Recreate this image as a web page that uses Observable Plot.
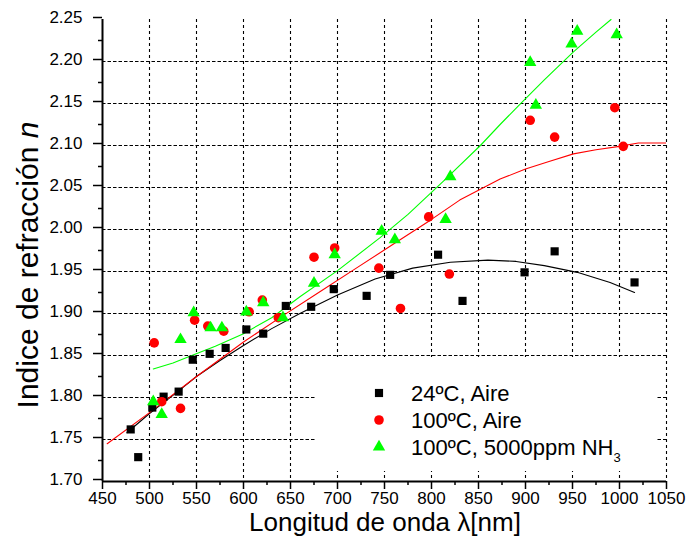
<!DOCTYPE html>
<html>
<head>
<meta charset="utf-8">
<script src="https://cdn.jsdelivr.net/npm/d3@7"></script>
<script src="https://cdn.jsdelivr.net/npm/@observablehq/plot@0.6"></script>
<style>
  html, body { margin: 0; padding: 0; background: #fff; }
</style>
</head>
<body>
<div id="chart"></div>
<script>
// ---- Tick values ----
const xTicks = [450, 500, 550, 600, 650, 700, 750, 800, 850, 900, 950, 1000, 1050];
const xMinorTicks = [475, 525, 575, 625, 675, 725, 775, 825, 875, 925, 975, 1025];
const xGridTicks = [500, 550, 600, 650, 700, 750, 800, 850, 900, 950, 1000, 1050];
const yTicks = [1.70, 1.75, 1.80, 1.85, 1.90, 1.95, 2.00, 2.05, 2.10, 2.15, 2.20, 2.25];
const yMinorTicks = [1.725, 1.775, 1.825, 1.875, 1.925, 1.975, 2.025, 2.075, 2.125, 2.175, 2.225];
const yGridTicks = [1.75, 1.80, 1.85, 1.90, 1.95, 2.00, 2.05, 2.10, 2.15, 2.20];

// ---- Series labels ----
const seriesNames = ["24ºC, Aire", "100ºC, Aire", "100ºC, 5000ppm NH"];
const xLabel = "Longitud de onda λ[nm]";
const yLabel = "Indice de refracción ";
const yLabelItalic = "n";

// ---- 24ºC, Aire (black squares) ----
const airColdX = [480, 488, 503, 515, 531, 546, 564, 581, 603, 621, 645, 672, 696, 731, 756, 807, 833, 899, 931, 1016];
const airColdY = [1.762, 1.729, 1.788, 1.801, 1.807, 1.845, 1.852, 1.859, 1.881, 1.876, 1.909, 1.908, 1.929, 1.921, 1.946, 1.970, 1.915, 1.949, 1.974, 1.937];

// ---- 100ºC, Aire (red circles) ----
const airHotX = [505, 513, 533, 548, 562, 579, 606, 620, 637, 675, 697, 744, 767, 797, 819, 905, 931, 995, 1004];
const airHotY = [1.865, 1.795, 1.787, 1.892, 1.885, 1.879, 1.902, 1.916, 1.895, 1.967, 1.978, 1.954, 1.906, 2.015, 1.947, 2.130, 2.110, 2.145, 2.099];

// ---- 100ºC, 5000ppm NH3 (green triangles) ----
const nh3X = [504, 513, 533, 547, 565, 577, 603, 621, 642, 675, 697, 747, 761, 815, 820, 905, 911, 949, 955, 997];
const nh3Y = [1.795, 1.780, 1.869, 1.901, 1.883, 1.883, 1.902, 1.913, 1.895, 1.936, 1.970, 1.998, 1.988, 2.012, 2.063, 2.199, 2.148, 2.221, 2.236, 2.232];

// ---- Fitted curves ----
const airColdFitX = [476, 500, 530, 550, 575, 600, 630, 660, 700, 740, 780, 820, 860, 890, 920, 955, 990, 1016];
const airColdFitY = [1.758, 1.781, 1.807, 1.825, 1.844, 1.862, 1.882, 1.900, 1.922, 1.941, 1.954, 1.961, 1.9636, 1.962, 1.957, 1.949, 1.937, 1.925];

const airHotFitX = [455, 500, 550, 600, 640, 680, 720, 760, 800, 830, 873, 900, 925, 951, 975, 1000, 1020, 1050];
const airHotFitY = [1.745, 1.782, 1.825, 1.866, 1.896, 1.925, 1.954, 1.983, 2.012, 2.035, 2.060, 2.072, 2.081, 2.090, 2.095, 2.099, 2.103, 2.103];

const nh3FitX = [504, 525, 545, 570, 600, 630, 660, 700, 745, 775, 813, 852, 873, 894, 920, 951, 975, 991];
const nh3FitY = [1.834, 1.841, 1.850, 1.861, 1.876, 1.895, 1.920, 1.951, 1.990, 2.018, 2.058, 2.100, 2.125, 2.149, 2.178, 2.2115, 2.235, 2.250];

const zip = (xs, ys) => xs.map((x, i) => ({x, y: ys[i]}));
const airCold = zip(airColdX, airColdY);
const airHot = zip(airHotX, airHotY);
const nh3 = zip(nh3X, nh3Y);
const airColdFit = zip(airColdFitX, airColdFitY);
const airHotFit = zip(airHotFitX, airHotFitY);
const nh3Fit = zip(nh3FitX, nh3FitY);

const colors = ["#000000", "#ff0000", "#00ff00"];
const symbols = ["square", "circle", "triangle"];
const radii = [4.6, 4.8, 4.6];

const font = "'Liberation Sans', Arial, Helvetica, sans-serif";

const plot = Plot.plot({
  width: 689,
  height: 546,
  marginLeft: 102,
  marginRight: 23,
  marginTop: 19,
  marginBottom: 65,
  style: {fontFamily: font, fontSize: "17px", color: "#000", background: "#fff", overflow: "visible"},
  x: {domain: [450, 1050], label: null},
  y: {domain: [1.70, 2.25], label: null},
  marks: [
    Plot.gridX({ticks: xGridTicks, stroke: "#000", strokeOpacity: 1, strokeWidth: 1.1, strokeDasharray: "3,3"}),
    Plot.gridY({ticks: yGridTicks, stroke: "#000", strokeOpacity: 1, strokeWidth: 1.1, strokeDasharray: "3.5,2"}),
    Plot.axisX({ticks: xMinorTicks, tickSize: 4, tickFormat: () => "", strokeWidth: 1.5, label: null}),
    Plot.axisX({ticks: xTicks, tickSize: 8, tickPadding: 2, tickFormat: d => String(d), strokeWidth: 1.5, label: null}),
    Plot.axisY({ticks: yMinorTicks, tickSize: 4, tickFormat: () => "", strokeWidth: 1.5, label: null}),
    Plot.axisY({ticks: yTicks, tickSize: 9, tickPadding: 11, dy: -2, tickFormat: d3.format(".2f"), strokeWidth: 1.5, label: null}),
    Plot.ruleX([450], {stroke: "#000", strokeWidth: 2}),
    Plot.ruleY([1.70], {stroke: "#000", strokeWidth: 2}),
    Plot.line(airColdFit, {x: "x", y: "y", stroke: colors[0], strokeWidth: 1.1, clip: true}),
    Plot.line(airHotFit, {x: "x", y: "y", stroke: colors[1], strokeWidth: 1.1, clip: true}),
    Plot.line(nh3Fit, {x: "x", y: "y", stroke: colors[2], strokeWidth: 1.1, clip: true}),
    Plot.dot(airCold, {x: "x", y: "y", symbol: symbols[0], r: radii[0], fill: colors[0]}),
    Plot.dot(airHot, {x: "x", y: "y", symbol: symbols[1], r: radii[1], fill: colors[1]}),
    Plot.dot(nh3, {x: "x", y: "y", symbol: symbols[2], r: radii[2], fill: colors[2]})
  ]
});

const svg = d3.select(plot);

// X axis label
svg.append("text")
  .attr("x", 385).attr("y", 531)
  .attr("text-anchor", "middle")
  .attr("font-size", 26)
  .attr("fill", "#000")
  .text(xLabel);

// Y axis label
const yl = svg.append("text")
  .attr("transform", "translate(38,265) rotate(-90)")
  .attr("text-anchor", "middle")
  .attr("font-size", 30)
  .attr("fill", "#000");
yl.append("tspan").text(yLabel);
yl.append("tspan").attr("font-style", "italic").text(yLabelItalic);

// Legend (white box hides the grid behind it)
svg.append("rect")
  .attr("x", 316).attr("y", 357)
  .attr("width", 341).attr("height", 114)
  .attr("fill", "#fff");
const legendRows = [393, 420, 447];
const symbolMap = {square: d3.symbolSquare, circle: d3.symbolCircle, triangle: d3.symbolTriangle};
seriesNames.forEach((name, i) => {
  const g = svg.append("g").attr("transform", `translate(0,${legendRows[i]})`);
  g.append("path")
    .attr("transform", "translate(379,0)")
    .attr("d", d3.symbol(symbolMap[symbols[i]], Math.PI * radii[i] * radii[i])())
    .attr("fill", colors[i]);
  const t = g.append("text")
    .attr("x", 411).attr("y", 8)
    .attr("text-anchor", "start")
    .attr("font-size", 22)
    .attr("fill", "#000")
    .text(name);
  if (i === 2) {
    t.append("tspan").attr("font-size", 13).attr("dy", 7).text("3");
  }
});

document.getElementById("chart").appendChild(plot);
</script>
</body>
</html>
